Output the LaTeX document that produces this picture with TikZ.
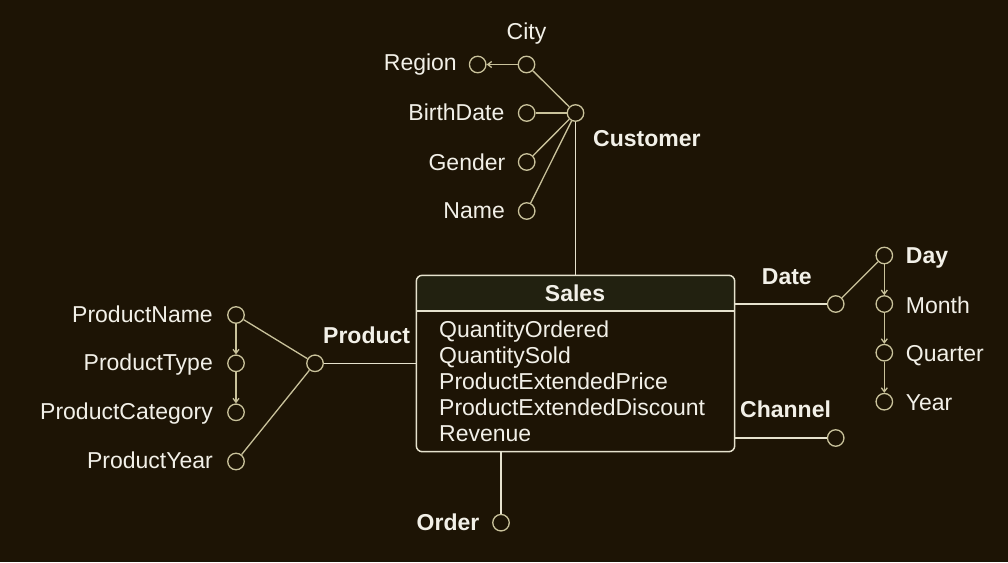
\documentclass[tikz,border=0pt]{standalone}
\usepackage{fontspec}
\setmainfont{Liberation Sans}
\usetikzlibrary{arrows.meta}
\definecolor{bg}{HTML}{1D1405}
\definecolor{hdr}{HTML}{222110}
\definecolor{circ}{HTML}{C9C29B}
\definecolor{boxc}{HTML}{E6E2CE}
\definecolor{txt}{HTML}{F2F0E8}
\begin{document}
\begin{tikzpicture}[x=1pt,y=-1pt,
  attr/.style={circle,draw=circ,line width=1.3pt,minimum size=16.5pt,inner sep=0pt},
  lbl/.style={text=txt,font=\fontsize{23}{26}\selectfont,inner sep=0pt},
  blbl/.style={text=txt,font=\bfseries\fontsize{23}{26}\selectfont,inner sep=0pt},
  link/.style={draw=circ,line width=1.3pt},
  factlink/.style={draw=boxc,line width=1.4pt},
  hier/.style={link,-{Straight Barb[length=4pt,width=6pt]}},
]
\fill[bg] (0,0) rectangle (1008,562);
\useasboundingbox (0,0) rectangle (1008,562);

% ---- Sales fact box
\path node[minimum width=318pt,minimum height=176pt,inner sep=0pt] (sales) at (575.5,363.5) {};
\coordinate (hdrline) at (0,311);
\begin{scope}
  \clip[rounded corners=6pt] (sales.south west) rectangle (sales.north east);
  \fill[hdr] (sales.north west) rectangle (sales.east |- hdrline);
\end{scope}
\draw[boxc,line width=1.5pt,rounded corners=6pt] (sales.south west) rectangle (sales.north east);
\draw[boxc,line width=1.5pt] (sales.west |- hdrline) -- (sales.east |- hdrline);
\node[blbl,anchor=base] (tSales) at (575,301.5) {Sales};
\node[lbl,anchor=base west] (m1) at (439,337) {QuantityOrdered};
\node[lbl,anchor=base west] (m2) at (439,363) {QuantitySold};
\node[lbl,anchor=base west] (m3) at (439,389) {ProductExtendedPrice};
\node[lbl,anchor=base west] (m4) at (439,415) {ProductExtendedDiscount};
\node[lbl,anchor=base west] (m5) at (439,441) {Revenue};

% ---- Customer dimension
\node[attr] (customer) at (575.5,113) {};
\node[attr] (city) at (526.5,64.5) {};
\node[attr] (region) at (477.7,64.5) {};
\node[attr] (birth) at (526.7,113) {};
\node[attr] (gender) at (526.7,162) {};
\node[attr] (name) at (526.7,211) {};
\node[blbl,anchor=base west] (tCustomer) at (593,146.7) {Customer};
\node[lbl,anchor=base] (tCity) at (526.5,39.3) {City};
\node[lbl,anchor=base east] (tRegion) at (457,70) {Region};
\node[lbl,anchor=base east] (tBirth) at (504.5,120.7) {BirthDate};
\node[lbl,anchor=base east] (tGender) at (505.5,170.7) {Gender};
\node[lbl,anchor=base east] (tName) at (505,218.5) {Name};
\draw[link] (customer) -- (city);
\draw[link] (customer) -- (birth);
\draw[link] (customer) -- (gender);
\draw[link] (customer) -- (name);
\draw[hier] (city) -- (region);
\draw[factlink] (customer) -- (sales.north);

% ---- Product dimension
\node[attr] (product) at (315,363.3) {};
\node[attr] (pname) at (236,315) {};
\node[attr] (ptype) at (236,363.3) {};
\node[attr] (pcat) at (236,412.3) {};
\node[attr] (pyear) at (236,461.5) {};
\node[blbl,anchor=base west] (tProduct) at (323,343.3) {Product};
\node[lbl,anchor=base east] (tPname) at (213,322.7) {ProductName};
\node[lbl,anchor=base east] (tPtype) at (213,370) {ProductType};
\node[lbl,anchor=base east] (tPcat) at (213,419.3) {ProductCategory};
\node[lbl,anchor=base east] (tPyear) at (213,468.3) {ProductYear};
\draw[link] (product) -- (pname);
\draw[link] (product) -- (pyear);
\draw[hier] (pname) -- (ptype);
\draw[hier] (ptype) -- (pcat);
\draw[factlink] (product) -- (product -| sales.west);

% ---- Date dimension
\node[attr] (date) at (835.7,304) {};
\node[attr] (day) at (884.3,255.5) {};
\node[attr] (month) at (884.3,304) {};
\node[attr] (quarter) at (884.3,352.7) {};
\node[attr] (year) at (884.3,401.7) {};
\node[blbl,anchor=base west] (tDate) at (761.7,284) {Date};
\node[blbl,anchor=base west] (tDay) at (905.7,263.3) {Day};
\node[lbl,anchor=base west] (tMonth) at (905.7,313) {Month};
\node[lbl,anchor=base west] (tQuarter) at (905.7,361.5) {Quarter};
\node[lbl,anchor=base west] (tYear) at (905.7,410.7) {Year};
\draw[link] (date) -- (day);
\draw[hier] (day) -- (month);
\draw[hier] (month) -- (quarter);
\draw[hier] (quarter) -- (year);
\draw[factlink] (date) -- (date -| sales.east);

% ---- Channel dimension
\node[attr] (channel) at (835.7,438) {};
\node[blbl,anchor=base west] (tChannel) at (740,417.3) {Channel};
\draw[factlink] (channel) -- (channel -| sales.east);

% ---- Order dimension
\node[attr] (order) at (501,522.7) {};
\node[blbl,anchor=base east] (tOrder) at (479.5,530.7) {Order};
\draw[factlink] (order) -- (order |- sales.south);
\end{tikzpicture}
\end{document}
